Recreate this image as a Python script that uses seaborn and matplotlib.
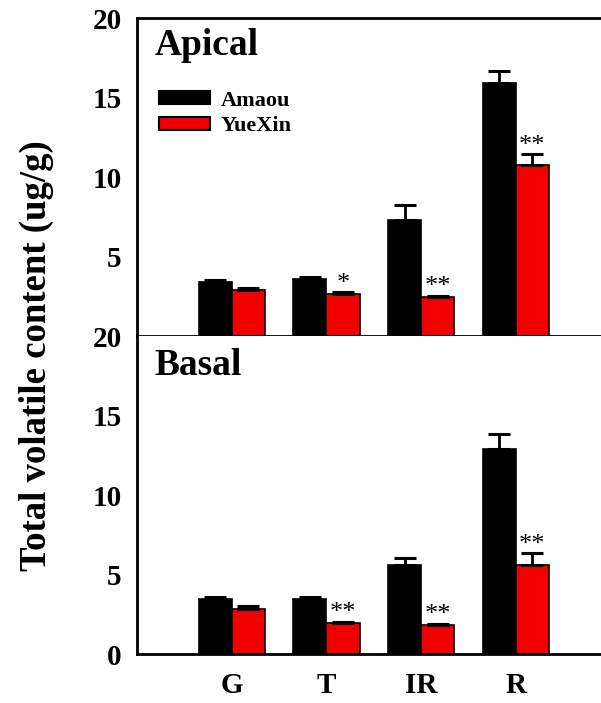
import pandas as pd
import seaborn as sns
import matplotlib.pyplot as plt

# Data
stages = ['G', 'T', 'IR', 'R']
cultivars = ['Amaou', 'YueXin']

apical_amaou = [3.40, 3.58, 7.32, 15.94]
apical_amaou_err = [0.12, 0.16, 0.94, 0.72]
apical_yuexin = [2.90, 2.65, 2.48, 10.74]
apical_yuexin_err = [0.10, 0.10, 0.06, 0.70]
apical_marks = ['', '*', '**', '**']

basal_amaou = [3.49, 3.49, 5.58, 12.92]
basal_amaou_err = [0.10, 0.08, 0.48, 0.93]
basal_yuexin = [2.86, 1.95, 1.82, 5.58]
basal_yuexin_err = [0.17, 0.06, 0.08, 0.76]
basal_marks = ['', '**', '**', '**']

colors = ['black', '#f20000']


def make_df(amaou, yuexin):
    return pd.DataFrame({
        'stage': stages * 2,
        'cultivar': [cultivars[0]] * 4 + [cultivars[1]] * 4,
        'value': amaou + yuexin,
    })


def draw_panel(ax, amaou, amaou_err, yuexin, yuexin_err, marks, legend):
    df = make_df(amaou, yuexin)
    sns.barplot(data=df, x='stage', y='value', hue='cultivar', order=stages,
                hue_order=cultivars, palette=colors, errorbar=None, width=0.7,
                edgecolor='black', linewidth=1.2, saturation=1, legend=legend, ax=ax)
    bars = [p for p in ax.patches if p.get_height() > 0][:8]
    errs = amaou_err + yuexin_err
    for bar, err in zip(bars, errs):
        xc = bar.get_x() + bar.get_width() / 2
        h = bar.get_height()
        ax.errorbar(xc, h, yerr=[[0], [err]], fmt='none', ecolor='black',
                    elinewidth=2, capsize=8, capthick=2.2, zorder=1)
    # significance marks above the YueXin bars
    for bar, err, mark in zip(bars[4:], yuexin_err, marks):
        if mark:
            xc = bar.get_x() + bar.get_width() / 2
            ax.text(xc, bar.get_height() + err - 0.15, mark, ha='center', va='bottom',
                    fontsize=19, color='black')
    ax.set_ylim(0, 20)
    ax.set_xlim(-1.0, 3.9)
    ax.set_xlabel('')
    ax.set_ylabel('')
    ax.spines['right'].set_visible(False)
    for s in ['left', 'top', 'bottom']:
        ax.spines[s].set_linewidth(2)
        ax.spines[s].set_color('black')
    ax.tick_params(axis='y', direction='in', length=7, width=2, pad=11, labelsize=21,
                   color='black', labelcolor='black')
    ax.tick_params(axis='x', length=0, pad=13, labelsize=21, labelcolor='black')
    for lab in ax.get_xticklabels() + ax.get_yticklabels():
        lab.set_fontweight('bold')


sns.set_style('white')
plt.rcParams['font.family'] = ['Liberation Serif', 'DejaVu Serif']
plt.rcParams['text.color'] = 'black'

fig = plt.figure(figsize=(6.01, 7.03), dpi=100)
ax1 = fig.add_axes([0.228, 0.522, 0.772, 0.452])
ax2 = fig.add_axes([0.228, 0.0697, 0.772, 0.452])

draw_panel(ax1, apical_amaou, apical_amaou_err, apical_yuexin, apical_yuexin_err,
           apical_marks, True)
draw_panel(ax2, basal_amaou, basal_amaou_err, basal_yuexin, basal_yuexin_err,
           basal_marks, False)

ax1.set_yticks([5, 10, 15, 20])
ax1.set_xticks([])
ax2.set_yticks([0, 5, 10, 15, 20])
ax2.spines['top'].set_visible(False)
for lab in ax1.get_yticklabels() + ax2.get_yticklabels():
    lab.set_fontweight('bold')

ax1.text(0.037, 0.915, 'Apical', transform=ax1.transAxes, fontsize=27,
         fontweight='bold', va='center', ha='left')
ax2.text(0.037, 0.908, 'Basal', transform=ax2.transAxes, fontsize=27,
         fontweight='bold', va='center', ha='left')

leg = ax1.legend(loc='upper left', bbox_to_anchor=(0.005, 0.835), frameon=False,
                 handlelength=2.3, handleheight=0.5, handletextpad=0.45,
                 labelspacing=0.25, prop={'weight': 'bold', 'size': 16})
for h in leg.legend_handles:
    h.set_edgecolor('black')
    h.set_linewidth(1.5)

fig.text(0.060, 0.494, 'Total volatile content (ug/g)', rotation=90,
         fontsize=26.5, fontweight='bold', va='center', ha='center')

fig.savefig('out.png', dpi=100)
